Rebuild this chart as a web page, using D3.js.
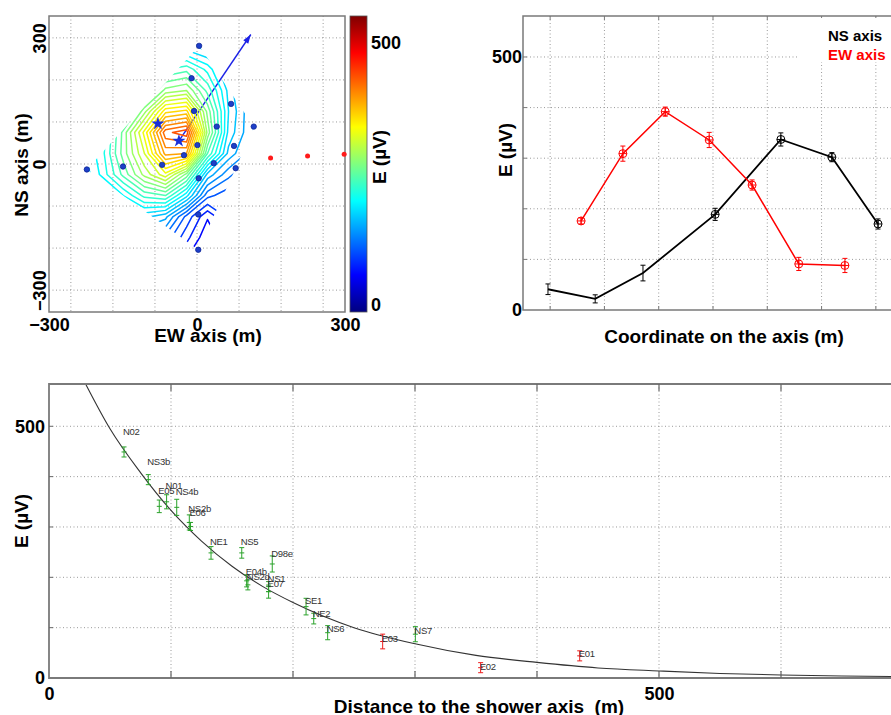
<!DOCTYPE html>
<html><head><meta charset="utf-8">
<script src="https://cdn.jsdelivr.net/npm/d3@7"></script>
<style>
html,body{margin:0;padding:0;background:#fff;}
svg{display:block;font-family:"Liberation Sans",Arial,Helvetica,sans-serif;}
</style></head><body>
<svg id="chart" width="891" height="715"></svg>
<script>
// ================= DATA =================
// --- top-left: station map (metres) ---
const stationX = [5, -13, -7, 81, 135, 47, 1, 88, -31, -83, -176, -262, 40, 92, 4, 3, 3];
const stationY = [281, 204, 126, 143, 89, 89, 45, 43, 21, -2, -6, -13, 2, -10, -34, -120, -204];
const outerX = [175, 263, 350];          // red stations on the EW axis
const outerY = [14, 19, 23];
const coreX = [-93, -43];                // star markers
const coreY = [96, 55];
const arrowX = [-43, 128];               // shower-axis arrow (start, tip)
const arrowY = [55, 308];
const hullX = [-262, 5, 135, 92, 3];     // region covered by the interpolated map
const hullY = [-13, 281, 89, -10, -204];
// field E (µV) read on a 50 m grid: columns = gridXs, rows = gridYs
const gridXs = [-275, -225, -175, -125, -75, -25, 25, 75, 125, 175];
const gridYs = [325, 275, 225, 175, 125, 75, 25, -25, -75, -125, -175, -225];
const fieldE = [
  [ 90, 100, 115, 140, 165, 155, 140, 120,  95,  80],
  [ 95, 110, 130, 165, 185, 175, 160, 140, 110,  90],
  [100, 120, 150, 190, 225, 235, 205, 160, 120,  95],
  [110, 140, 175, 225, 275, 285, 235, 175, 130, 100],
  [130, 170, 215, 280, 355, 365, 265, 180, 140, 110],
  [150, 200, 260, 335, 430, 445, 280, 175, 140, 110],
  [175, 205, 262, 315, 395, 390, 240, 160, 130, 110],
  [165, 200, 245, 290, 325, 265, 160, 125, 100,  90],
  [140, 160, 195, 230, 240, 185, 110,  95,  85,  80],
  [110, 120, 140, 170, 155, 100,  62,  95,  85,  75],
  [100, 110, 120, 130, 115,  80,  48,  75,  75,  70],
  [ 90, 100, 105, 110,  95,  60,  40,  60,  70,  65]
];
const contourLevels = [45, 60, 75, 90, 105, 120, 135, 150, 165, 180, 195, 210, 225, 240,
  255, 270, 285, 300, 315, 330, 345, 360, 375, 390, 405, 420, 435];
const mapGrid = [-300, -200, -100, 0, 100, 200, 300];
const mapTickLabels = [-300, 0, 300];
const cbDomain = [-13, 550];
const cbTicks = [0, 500];

// --- top-right: profiles along the axes ---
const nsCoord = [-304, -217, -129, 4, 125, 219, 304];
const nsE     = [41, 22, 73, 189, 337, 302, 170];
const nsErr   = [10.5, 8, 15.5, 12, 13, 9, 10];
const ewCoord = [-243, -166, -88, -7, 72, 158, 243];
const ewE     = [176, 309, 392, 336, 247, 91, 88];
const ewErr   = [6, 15, 9, 15, 10, 13, 14];
const trGridX = [-300, -200, -100, 0, 100, 200, 300];
const trGridY = [100, 200, 300, 400, 500];
const trTicks = [0, 500];

// --- bottom: lateral distribution ---
const stNames = ["N02","NS3b","E05","N01","NS4b","NS2b","E06","NE1","NS5","D98e","E04b","NS2d","NS1","E07","SE1","NE2","NS6","E03","NS7","E02","E01"];
const stDist  = [61.5, 81.4, 90.4, 96.4, 104.7, 115, 116, 132.8, 158, 183, 162, 163, 180, 180, 210.7, 217, 228.4, 273.5, 300.3, 353.8, 435];
const stE     = [449, 394, 341, 350, 339, 309, 301, 248.5, 248.5, 226.5, 193, 185, 181.5, 171.6, 141.8, 118, 90, 72.5, 87, 20.5, 44];
const stErr   = [10, 10, 12.5, 14, 16, 15, 8, 12.5, 10.5, 16, 12, 10, 10, 13, 16.5, 10.6, 14, 14.6, 15, 10, 10];
const outerStations = ["E03", "E02", "E01"];
const fitD = [30, 50, 75, 100, 125, 150, 175, 200, 250, 300, 350, 400, 450, 500, 550, 600, 650, 700];
const fitE = [584, 495, 408, 333, 272, 222, 182, 150, 100, 68, 45, 31, 20, 14, 9, 6, 4, 2.7];
const btGridX = [100, 200, 300, 400, 500, 600];
const btGridY = [100, 200, 300, 400, 500];
const btTicksX = [0, 500];
const btTicksY = [0, 500];

// ================= DRAWING =================
const svg = d3.select("#chart");
const defs = svg.append("defs");
const FRAME = "#7a7a7a";
const GRID = "#9a9a9a";
const jet = d3.scaleLinear()
  .domain([0, 0.125, 0.375, 0.625, 0.875, 1])
  .range(["#000080", "#0000ff", "#00ffff", "#ffff00", "#ff0000", "#800000"])
  .clamp(true);
const colorOf = v => jet((v - cbDomain[0]) / (cbDomain[1] - cbDomain[0]));

function dotted(sel) {
  sel.attr("stroke", GRID).attr("stroke-width", 1).attr("stroke-dasharray", "1,2.5");
}
function boldText(sel, size) {
  sel.attr("font-weight", "bold").attr("font-size", size).attr("fill", "#000");
}
function rotLabel(g, x, y, txt, size) {
  g.append("text").attr("transform", `translate(${x},${y}) rotate(-90)`)
    .attr("text-anchor", "middle").text(txt).call(boldText, size);
}

// ---------- top-left map ----------
const M = {l: 49, r: 345, t: 16, b: 312};
const mx = d3.scaleLinear().domain([-352, 352]).range([M.l, M.r]);
const my = d3.scaleLinear().domain([-352, 352]).range([M.b, M.t]);
const gMap = svg.append("g");

gMap.append("g").selectAll("line").data(mapGrid).join("line")
  .attr("x1", d => mx(d)).attr("x2", d => mx(d)).attr("y1", M.t).attr("y2", M.b).call(dotted);
gMap.append("g").selectAll("line").data(mapGrid).join("line")
  .attr("y1", d => my(d)).attr("y2", d => my(d)).attr("x1", M.l).attr("x2", M.r).call(dotted);

// arrow line (drawn under the contours)
const ax0 = mx(arrowX[0]), ay0 = my(arrowY[0]), ax1 = mx(arrowX[1]), ay1 = my(arrowY[1]);
gMap.append("line").attr("x1", ax0).attr("y1", ay0).attr("x2", ax1).attr("y2", ay1)
  .attr("stroke", "#1c22e6").attr("stroke-width", 1.4);
const ang = Math.atan2(ay1 - ay0, ax1 - ax0);
const hl = 9, hw = 3;
const bxp = ax1 - hl * Math.cos(ang), byp = ay1 - hl * Math.sin(ang);
gMap.append("path")
  .attr("d", `M${ax1},${ay1}L${bxp + hw * Math.sin(ang)},${byp - hw * Math.cos(ang)}L${bxp - hw * Math.sin(ang)},${byp + hw * Math.cos(ang)}Z`)
  .attr("fill", "#1c22e6");

// contours
defs.append("clipPath").attr("id", "hullClip").append("polygon")
  .attr("points", hullX.map((x, i) => `${mx(x)},${my(hullY[i])}`).join(" "));
const gridStep = gridXs[1] - gridXs[0];
const gridTransform = d3.geoTransform({
  point(c, r) {
    this.stream.point(mx(gridXs[0] + (c - 0.5) * gridStep), my(gridYs[0] - (r - 0.5) * gridStep));
  }
});
const contourSet = d3.contours().size([gridXs.length, gridYs.length]).thresholds(contourLevels)(fieldE.flat());
gMap.append("g").attr("clip-path", "url(#hullClip)")
  .selectAll("path").data(contourSet).join("path")
  .attr("d", d3.geoPath(gridTransform))
  .attr("fill", "none").attr("stroke", d => colorOf(d.value))
  .attr("stroke-width", 1.5).attr("stroke-linejoin", "round");

// frame
gMap.append("rect").attr("x", M.l).attr("y", M.t).attr("width", M.r - M.l).attr("height", M.b - M.t)
  .attr("fill", "none").attr("stroke", FRAME).attr("stroke-width", 1.5);

// stations
gMap.append("g").selectAll("circle").data(stationX).join("circle")
  .attr("cx", d => mx(d)).attr("cy", (d, i) => my(stationY[i])).attr("r", 2.7)
  .attr("fill", "#1d3fc8").attr("stroke", "#0d2396").attr("stroke-width", 0.8);
gMap.append("g").selectAll("circle").data(outerX).join("circle")
  .attr("cx", d => mx(d)).attr("cy", (d, i) => my(outerY[i])).attr("r", 2.5)
  .attr("fill", "#ff1a1a");
gMap.append("g").selectAll("path").data(coreX).join("path")
  .attr("transform", (d, i) => `translate(${mx(d)},${my(coreY[i])})`)
  .attr("d", d3.symbol(d3.symbolStar, 55)).attr("fill", "#1a2fd8");

// tick labels: the reference prints -300 / 300 at the frame edges
const mapLabelScale = d3.scaleLinear().domain([-300, 300]).range([M.l, M.r]);
const mxAxis = gMap.append("g").attr("transform", `translate(0,${M.b})`)
  .call(d3.axisBottom(mapLabelScale).tickValues(mapTickLabels).tickSize(0).tickPadding(6));
mxAxis.select(".domain").remove();
mxAxis.selectAll("text").call(boldText, 18);
const myAxis = gMap.append("g").attr("transform", `translate(${M.l},0)`)
  .call(d3.axisLeft(my).tickValues(mapTickLabels).tickSize(0));
myAxis.select(".domain").remove();
myAxis.selectAll("text").attr("x", 0).attr("dy", null).attr("y", -3)
  .attr("transform", "rotate(-90)").attr("text-anchor", "middle").call(boldText, 18);
gMap.append("text").attr("x", 208).attr("y", 342).attr("text-anchor", "middle").text("EW axis (m)").call(boldText, 19);
rotLabel(gMap, 28, 165, "NS axis (m)", 19);

// colorbar
const CB = {l: 350, r: 367};
const cy = d3.scaleLinear().domain(cbDomain).range([M.b, M.t]);
const grad = defs.append("linearGradient").attr("id", "jetGrad")
  .attr("x1", 0).attr("y1", 1).attr("x2", 0).attr("y2", 0);
jet.domain().forEach((t, i) => grad.append("stop").attr("offset", t).attr("stop-color", jet.range()[i]));
gMap.append("rect").attr("x", CB.l).attr("y", M.t).attr("width", CB.r - CB.l).attr("height", M.b - M.t)
  .attr("fill", "url(#jetGrad)").attr("stroke", "#555").attr("stroke-width", 0.8);
const cbAxis = gMap.append("g").attr("transform", `translate(${CB.r},0)`)
  .call(d3.axisRight(cy).tickValues(cbTicks).tickSize(0).tickPadding(4));
cbAxis.select(".domain").remove();
cbAxis.selectAll("text").call(boldText, 18);
rotLabel(gMap, 386, 157, "E (µV)", 19);

// ---------- top-right profiles ----------
const T = {l: 523, r: 891, t: 16, b: 310};
const tx = d3.scaleLinear().domain([-350, 350]).range([523, 903]);
const ty = d3.scaleLinear().domain([0, 580]).range([T.b, 16.5]);
const gTR = svg.append("g");
gTR.append("g").selectAll("line").data(trGridX).join("line")
  .attr("x1", d => tx(d)).attr("x2", d => tx(d)).attr("y1", T.t).attr("y2", T.b).call(dotted);
gTR.append("g").selectAll("line").data(trGridY).join("line")
  .attr("y1", d => ty(d)).attr("y2", d => ty(d)).attr("x1", T.l).attr("x2", T.r).call(dotted);
// frame and inner ticks
gTR.append("path").attr("d", `M${T.r},${T.t}H${T.l}V${T.b}H${T.r}`)
  .attr("fill", "none").attr("stroke", FRAME).attr("stroke-width", 1.5);
gTR.append("g").selectAll("path").data(trGridX).join("path")
  .attr("d", d => `M${tx(d)},${T.t}v4M${tx(d)},${T.b}v-4`).attr("stroke", FRAME);
gTR.append("g").selectAll("path").data(trGridY).join("path")
  .attr("d", d => `M${T.l},${ty(d)}h4`).attr("stroke", FRAME);

function profile(g, xs, ys, errs, color, lw, markFrom) {
  const line = d3.line().x((d, i) => tx(xs[i])).y(d => ty(d));
  g.append("path").attr("d", line(ys)).attr("fill", "none").attr("stroke", color).attr("stroke-width", lw);
  const eg = g.append("g").attr("stroke", color).attr("stroke-width", 1).attr("fill", "none");
  ys.forEach((v, i) => {
    const x = tx(xs[i]), y0 = ty(v - errs[i]), y1 = ty(v + errs[i]);
    eg.append("path").attr("d", `M${x},${y0}V${y1}M${x - 2.5},${y0}h5M${x - 2.5},${y1}h5`);
    if (i >= markFrom) {
      const y = ty(v);
      eg.append("circle").attr("cx", x).attr("cy", y).attr("r", 4);
      eg.append("path").attr("d", `M${x - 4},${y}h8M${x},${y - 4}v8`);
    }
  });
}
profile(gTR, nsCoord, nsE, nsErr, "#000", 1.8, 3);   // first three NS points: error bars only
profile(gTR, ewCoord, ewE, ewErr, "#ff0000", 1.5, 0);

const tyAxis = gTR.append("g").attr("transform", `translate(${T.l},0)`)
  .call(d3.axisLeft(ty).tickValues(trTicks).tickSize(0).tickPadding(1));
tyAxis.select(".domain").remove();
tyAxis.selectAll("text").call(boldText, 18);
gTR.append("text").attr("x", 724).attr("y", 343).attr("text-anchor", "middle")
  .text("Coordinate on the axis (m)").call(boldText, 19);
rotLabel(gTR, 512, 150, "E (µV)", 19);
// legend
gTR.append("rect").attr("x", 797).attr("y", 18).attr("width", 94).attr("height", 44).attr("fill", "#fff");
gTR.append("text").attr("x", 828).attr("y", 41).text("NS axis").call(boldText, 15);
gTR.append("text").attr("x", 828).attr("y", 60).text("EW axis").call(boldText, 15).attr("fill", "#ff0000");

// ---------- bottom: E vs distance ----------
const B = {l: 49, r: 891, t: 384, b: 678};
const bx = d3.scaleLinear().domain([0, 700]).range([49, 903]);
const by = d3.scaleLinear().domain([0, 584]).range([B.b, B.t]);
const gB = svg.append("g");
gB.append("g").selectAll("line").data(btGridX).join("line")
  .attr("x1", d => bx(d)).attr("x2", d => bx(d)).attr("y1", B.t).attr("y2", B.b).call(dotted);
gB.append("g").selectAll("line").data(btGridY).join("line")
  .attr("y1", d => by(d)).attr("y2", d => by(d)).attr("x1", B.l).attr("x2", B.r).call(dotted);

defs.append("clipPath").attr("id", "bClip").append("rect")
  .attr("x", B.l).attr("y", B.t).attr("width", B.r - B.l).attr("height", B.b - B.t);
gB.append("path").attr("clip-path", "url(#bClip)")
  .attr("d", d3.line().x((d, i) => bx(fitD[i])).y(d => by(d)).curve(d3.curveMonotoneX)(fitE))
  .attr("fill", "none").attr("stroke", "#333").attr("stroke-width", 1.1);

gB.append("path").attr("d", `M${B.r},${B.t}H${B.l}V${B.b}H${B.r}`)
  .attr("fill", "none").attr("stroke", FRAME).attr("stroke-width", 1.8);
gB.append("g").selectAll("path").data(btGridX).join("path")
  .attr("d", d => `M${bx(d)},${B.t}v7M${bx(d)},${B.b}v-7`).attr("stroke", "#666").attr("stroke-width", 1.2);
gB.append("g").selectAll("path").data(btGridY).join("path")
  .attr("d", d => `M${B.l},${by(d)}h4`).attr("stroke", "#666");

const eb = gB.append("g").attr("fill", "none").attr("stroke-width", 1);
stNames.forEach((n, i) => {
  const col = outerStations.includes(n) ? "#ee1c1c" : "#2aa22a";
  const x = bx(stDist[i]), y = by(stE[i]), y0 = by(stE[i] - stErr[i]), y1 = by(stE[i] + stErr[i]);
  eb.append("path").attr("stroke", col)
    .attr("d", `M${x},${y0}V${y1}M${x - 2.5},${y0}h5M${x - 2.5},${y1}h5M${x - 2.5},${y}h5`);
});
gB.append("g").selectAll("text").data(stNames).join("text")
  .attr("x", (d, i) => bx(stDist[i]) - 1).attr("y", (d, i) => by(stE[i] * 1.09)).attr("dy", "0.35em")
  .attr("font-family", '"Liberation Sans Narrow","Liberation Sans",Arial,sans-serif')
  .attr("font-size", 9.5).attr("letter-spacing", "-0.3").attr("fill", "#333").text(d => d);

const bxAxis = gB.append("g").attr("transform", `translate(0,${B.b})`)
  .call(d3.axisBottom(bx).tickValues(btTicksX).tickSize(0).tickPadding(9));
bxAxis.select(".domain").remove();
bxAxis.selectAll("text").call(boldText, 18);
const byAxis = gB.append("g").attr("transform", `translate(${B.l},0)`)
  .call(d3.axisLeft(by).tickValues(btTicksY).tickSize(0).tickPadding(4));
byAxis.select(".domain").remove();
byAxis.selectAll("text").call(boldText, 18);
gB.append("text").attr("x", 479).attr("y", 713).attr("text-anchor", "middle").style("white-space", "pre")
  .text("Distance to the shower axis  (m)").call(boldText, 19);
rotLabel(gB, 28, 521, "E (µV)", 19);
</script>
</body></html>
